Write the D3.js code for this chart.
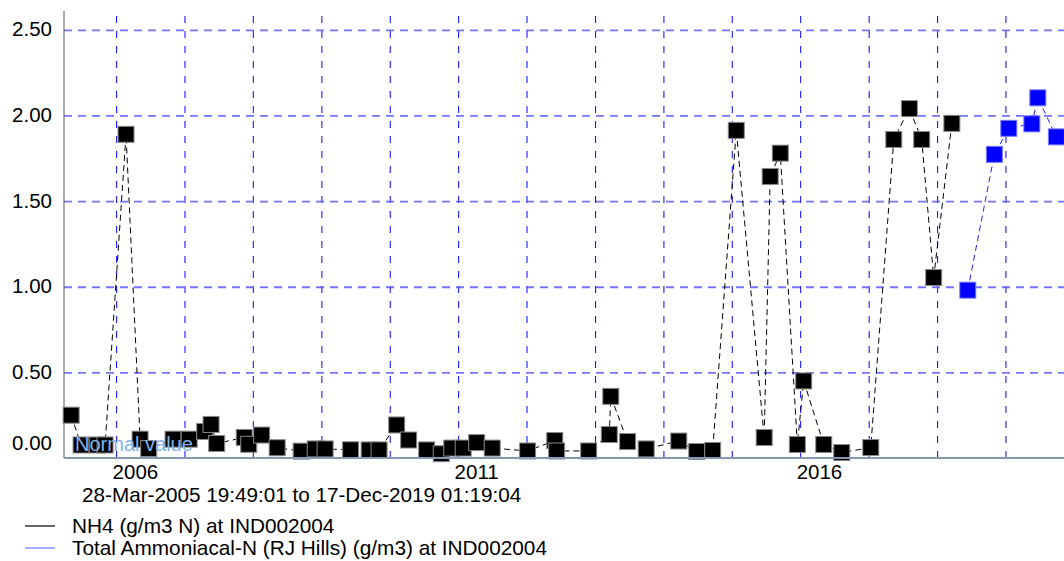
<!DOCTYPE html>
<html>
<head>
<meta charset="utf-8">
<script src="https://cdn.jsdelivr.net/npm/d3@7"></script>
<style>
  html, body { margin: 0; padding: 0; background: #fff; }
  svg { display: block; font-family: Arial, "Liberation Sans", sans-serif; }
</style>
</head>
<body>
<svg id="chart" width="1064" height="561"></svg>
<script>
// Query period shown under the time axis
const rangeStart = "2005-03-28T19:49:01";
const rangeEnd = "2019-12-17T01:19:04";

// NH4 (g/m3 N) samples
const nh4Dates = [
  "2005-05-06", "2005-06-28", "2005-09-22", "2005-11-03", "2006-02-23",
  "2006-05-09", "2006-06-24", "2006-11-01", "2007-01-26", "2007-04-19",
  "2007-05-23", "2007-06-22", "2007-11-16", "2007-12-10", "2008-02-17",
  "2008-05-10", "2008-09-15", "2008-11-29", "2009-01-21", "2009-06-06",
  "2009-09-13", "2009-11-05", "2010-02-07", "2010-04-12", "2010-07-17",
  "2010-10-03", "2010-11-28", "2011-01-28", "2011-04-10", "2011-07-02",
  "2012-01-07", "2012-05-31", "2012-06-10", "2012-11-28", "2013-03-18",
  "2013-03-26", "2013-06-24", "2013-10-01", "2014-03-24", "2014-06-28",
  "2014-09-21", "2015-01-25", "2015-06-23", "2015-07-25", "2015-09-17",
  "2015-12-17", "2016-01-20", "2016-05-06", "2016-08-10", "2017-01-12",
  "2017-05-15", "2017-08-06", "2017-10-11", "2017-12-14", "2018-03-21"
];
const nh4Values = [
  0.25, 0.076, 0.076, 0.076, 1.89,
  0.11, 0.055, 0.11, 0.11, 0.155,
  0.196, 0.085, 0.12, 0.08, 0.134,
  0.06, 0.04, 0.053, 0.053, 0.048,
  0.047, 0.047, 0.193, 0.105, 0.047,
  0.025, 0.058, 0.058, 0.09, 0.058,
  0.041, 0.102, 0.041, 0.041, 0.137,
  0.36, 0.096, 0.053, 0.099, 0.038,
  0.044, 1.913, 0.12, 1.644, 1.78,
  0.079, 0.45, 0.079, 0.032, 0.061,
  1.86, 2.04, 1.86, 1.054, 1.954
];

// Total Ammoniacal-N (RJ Hills) (g/m3) samples
const tanDates = [
  "2018-06-14", "2018-11-03", "2019-01-19", "2019-05-22", "2019-06-23", "2019-09-30"
];
const tanValues = [0.98, 1.773, 1.925, 1.951, 2.103, 1.875];

// Axis ticks
const gridYears = [2006, 2007, 2008, 2009, 2010, 2011, 2012, 2013, 2014, 2015, 2016, 2017, 2018, 2019];
const labelYears = [2006, 2011, 2016];
const yTickValues = [0, 0.5, 1, 1.5, 2, 2.5];
const yTop = 2.61;

const seriesNames = [
  "NH4 (g/m3 N) at IND002004",
  "Total Ammoniacal-N (RJ Hills) (g/m3) at IND002004"
];
const normalLabel = "Normal value";

// ---- layout ----
const plotLeft = 64, plotRight = 1071, plotTop = 11, plotBottom = 458, viewRight = 1064;
const svg = d3.select("#chart");

const parseDay = d3.utcParse("%Y-%m-%d");
const parseFull = d3.utcParse("%Y-%m-%dT%H:%M:%S");

const x = d3.scaleUtc()
  .domain([parseFull(rangeStart), parseFull(rangeEnd)])
  .range([plotLeft, plotRight]);
const y = d3.scaleLinear()
  .domain([0, yTop])
  .range([plotBottom, plotTop]);

const nh4 = nh4Dates.map((d, i) => ({ t: parseDay(d), v: nh4Values[i] }));
const tan = tanDates.map((d, i) => ({ t: parseDay(d), v: tanValues[i] }));
const yearDates = gridYears.map(yr => new Date(Date.UTC(yr, 0, 1)));

// ---- vertical grid (one per year) ----
const xGrid = svg.append("g")
  .attr("transform", `translate(0,${plotBottom})`)
  .call(d3.axisBottom(x).tickValues(yearDates).tickSize(-(plotBottom - plotTop)).tickFormat(""));
xGrid.select(".domain").remove();
xGrid.selectAll(".tick line")
  .attr("stroke", "#1a1aff")
  .attr("stroke-width", 1.1)
  .attr("stroke-dasharray", "7,8");

// ---- horizontal grid ----
const yGrid = svg.append("g")
  .attr("transform", `translate(${plotLeft},0)`)
  .call(d3.axisRight(y).tickValues(yTickValues.filter(v => v > 0)).tickSize(viewRight - plotLeft).tickFormat(""));
yGrid.select(".domain").remove();
yGrid.selectAll(".tick line")
  .attr("stroke", "#5c5cff")
  .attr("stroke-opacity", 0.85)
  .attr("stroke-width", 1.8)
  .attr("stroke-dasharray", "8,6");

// ---- y axis labels ----
const yAxis = svg.append("g")
  .attr("transform", `translate(${plotLeft},0)`)
  .call(d3.axisLeft(y).tickValues(yTickValues).tickFormat(d3.format(".2f")).tickSize(0).tickPadding(12));
yAxis.select(".domain").remove();
yAxis.selectAll(".tick text")
  .attr("font-size", 20.5)
  .attr("font-family", "Arial, 'Liberation Sans', sans-serif")
  .attr("fill", "#000")
  .attr("dy", d => d === 0 ? "-0.42em" : "0.3em");

svg.append("line")
  .attr("x1", plotLeft).attr("x2", plotLeft)
  .attr("y1", plotTop).attr("y2", plotBottom)
  .attr("stroke", "#555").attr("stroke-width", 1);

// ---- x axis labels ----
const xAxis = svg.append("g")
  .attr("transform", `translate(0,${plotBottom})`)
  .call(d3.axisBottom(x)
    .tickValues(labelYears.map(yr => new Date(Date.UTC(yr, 0, 1))))
    .tickFormat(d3.utcFormat("%Y"))
    .tickSize(0).tickPadding(6));
xAxis.select(".domain").remove();
xAxis.selectAll(".tick text")
  .attr("font-size", 20.5)
  .attr("font-family", "Arial, 'Liberation Sans', sans-serif")
  .attr("fill", "#000")
  .attr("text-anchor", "start")
  .attr("dx", -4);

// ---- series ----
const line = d3.line().x(d => x(d.t)).y(d => y(d.v));
const sq = 16;

function drawSeries(data, lineColor, fill, edge) {
  svg.append("path")
    .datum(data)
    .attr("d", line)
    .attr("fill", "none")
    .attr("stroke", lineColor)
    .attr("stroke-width", 1)
    .attr("stroke-dasharray", "6,4");
  svg.append("g").selectAll("rect")
    .data(data)
    .join("rect")
    .attr("x", d => x(d.t) - sq / 2)
    .attr("y", d => y(d.v) - sq / 2)
    .attr("width", sq)
    .attr("height", sq)
    .attr("fill", fill)
    .attr("stroke", edge)
    .attr("stroke-width", 1);
}
drawSeries(nh4, "#000", "#000", "#8a8a8a");
drawSeries(tan, "#2020ff", "#0000ff", "#7a7aff");

// ---- normal value line ----
svg.append("line")
  .attr("x1", plotLeft).attr("x2", viewRight)
  .attr("y1", y(0)).attr("y2", y(0))
  .attr("stroke", "#8299b4").attr("stroke-width", 2);
svg.append("text")
  .attr("x", plotLeft + 11).attr("y", y(0) - 7)
  .attr("font-size", 20)
  .attr("fill", "#82b4ee")
  .text(normalLabel);

// ---- period caption ----
const fmtCaption = d3.utcFormat("%d-%b-%Y %H:%M:%S");
svg.append("text")
  .attr("x", 82).attr("y", 502)
  .attr("font-size", 20.7)
  .attr("fill", "#000")
  .text(`${fmtCaption(parseFull(rangeStart))} to ${fmtCaption(parseFull(rangeEnd))}`);

// ---- legend ----
const legendColors = ["#000", "#7272ff"];
const legend = svg.append("g");
seriesNames.forEach((name, i) => {
  const ly = 526 + i * 22;
  legend.append("line")
    .attr("x1", 25).attr("x2", 55)
    .attr("y1", ly).attr("y2", ly)
    .attr("stroke", legendColors[i]).attr("stroke-width", 1.2);
  legend.append("text")
    .attr("x", 72).attr("y", ly + 6.5)
    .attr("font-size", 20.8)
    .attr("fill", "#000")
    .text(name);
});
</script>
</body>
</html>
